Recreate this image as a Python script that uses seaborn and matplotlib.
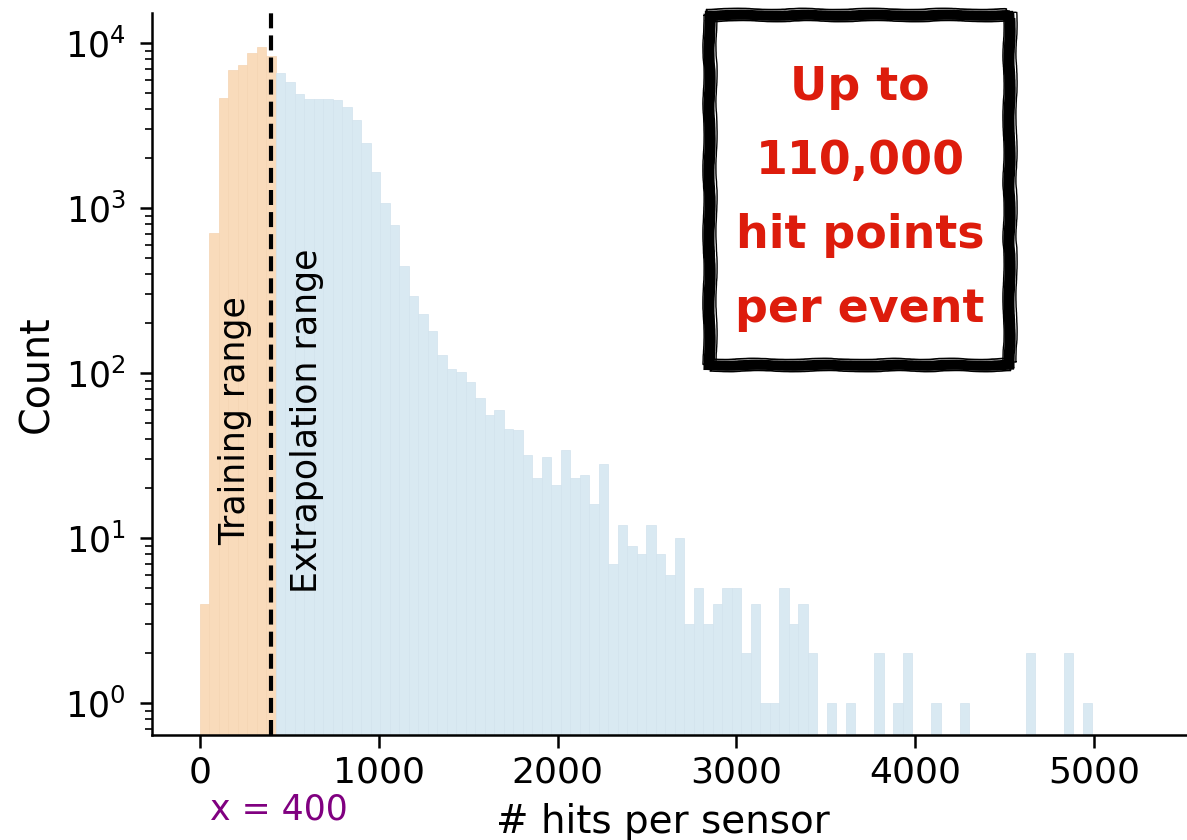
import numpy as np
import pandas as pd
import matplotlib
matplotlib.use("Agg")
import matplotlib.pyplot as plt
from matplotlib.patches import Rectangle
import seaborn as sns

# Histogram of hits per sensor: fixed-width bins starting at 0
bin_width = 53.1
counts = [
    4, 705, 4640, 6860, 7360, 8700, 9460, 8340,            # 0 - 424
    6550, 5800, 4910, 4600, 4600, 4600, 4500, 4080,
    3410, 2465, 1645, 1077, 788, 445, 293, 228,
    180, 128, 106, 102, 88, 71, 56, 60,
    46, 45, 32, 23, 31, 21, 34, 23,
    24, 16, 28, 7, 12, 9, 8, 12,
    8, 6, 10, 3, 5, 3, 4, 5,
    5, 2, 4, 1, 1, 5, 3, 4,
    2, 0, 1, 0, 1, 0, 0, 2,
    0, 1, 2, 0, 0, 1, 0, 0,
    1, 0, 0, 0, 0, 0, 0, 2,
    0, 0, 0, 2, 0, 1,
]
threshold = 400
xticks = [0, 1000, 2000, 3000, 4000, 5000]
callout_lines = ["Up to", "110,000", "hit points", "per event"]

edges = [i * bin_width for i in range(len(counts) + 1)]
df = pd.DataFrame({"left": edges[:-1],
                   "hits": [e + bin_width / 2 for e in edges[:-1]],
                   "count": counts})
df = df[df["count"] > 0]
train = df[df["left"] < threshold]
extra = df[df["left"] >= threshold]

sns.set_theme(style="ticks")
plt.rcParams["font.family"] = ["DejaVu Sans"]

fig = plt.figure(figsize=(11.87, 8.4), dpi=100)
ax = fig.add_axes([0.128, 0.125, 0.872, 0.8595])

sns.histplot(data=train, x="hits", weights="count", bins=edges,
             color="#f9dbbb", alpha=1, edgecolor="#f5d4b3", linewidth=0.5, ax=ax)
sns.histplot(data=extra, x="hits", weights="count", bins=edges,
             color="#d9e9f2", alpha=1, edgecolor="#d2e3ed", linewidth=0.5, ax=ax)

ax.set_yscale("log")
ax.set_ylim(0.64, 15200)
ax.set_xlim(-268, 5520)
ax.set_xticks(xticks)

ax.axvline(threshold, color="black", lw=3.0, ls=(0, (3.6, 1.7)), zorder=4)

sns.despine(ax=ax)
for side in ("left", "bottom"):
    ax.spines[side].set_linewidth(1.8)
    ax.spines[side].set_color("black")
ax.tick_params(axis="both", which="major", length=9, width=1.8,
               color="black", labelcolor="black")
ax.tick_params(axis="x", which="major", labelsize=26, pad=6)
ax.tick_params(axis="y", which="major", labelsize=25, pad=10)
ax.tick_params(axis="y", which="minor", length=5, width=1.2, color="black")

ax.set_xlabel("# hits per sensor", fontsize=28, color="black")
ax.set_ylabel("Count", fontsize=28.5, color="black")
ax.xaxis.set_label_coords(0.494, -0.094)
ax.yaxis.set_label_coords(-0.091, 0.5)

xt = ax.get_xaxis_transform()
ax.text(252, 0.263, "Training range", rotation=90, rotation_mode="anchor",
        ha="left", va="baseline", fontsize=25, color="black", transform=xt)
ax.text(654, 0.196, "Extrapolation range", rotation=90, rotation_mode="anchor",
        ha="left", va="baseline", fontsize=25, color="black", transform=xt)
ax.text(444, -0.1176, "x = 400", ha="center", va="baseline", fontsize=25,
        color="purple", transform=xt, clip_on=False)

# Hand-drawn style callout box
W, H = 1187.0, 840.0
bl, br = 709 / W, 1009 / W
bb, bt = 1 - 365 / H, 1 - 15 / H
fig.add_artist(Rectangle((bl, bb), br - bl, bt - bb, transform=fig.transFigure,
                         facecolor="white", edgecolor="black", linewidth=6,
                         zorder=5))
strokes = [(-4, -3, 2.2), (3, 2, 2.2), (-1, 4, 1.8), (5, -4, 1.6), (0, 0, 2.6),
           (-6, 1, 1.0), (7, 3, 1.0), (2, -6, 1.2), (-3, 6, 1.2)]
for dx, dy, lw in strokes:
    r = Rectangle((bl + dx / W, bb + dy / H), br - bl, bt - bb,
                  transform=fig.transFigure, fill=False, edgecolor="black",
                  linewidth=lw, zorder=6)
    r.set_sketch_params(scale=0.6, length=90, randomness=4)
    fig.add_artist(r)

baselines = [100, 174, 248, 322]
for line, yb in zip(callout_lines, baselines):
    fig.text(860 / W, 1 - yb / H, line, ha="center", va="baseline",
             fontsize=33, fontweight="bold", color="#dd1c0c", zorder=7)

fig.savefig("out.png", dpi=100)
